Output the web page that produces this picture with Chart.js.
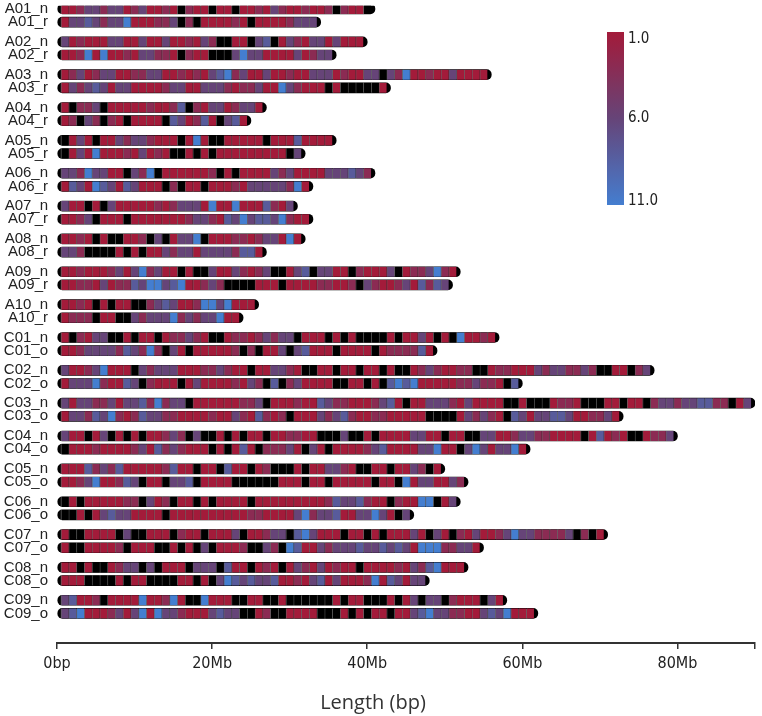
<!DOCTYPE html>
<html>
<head>
<meta charset="utf-8">
<title>Chromosome density</title>
<script src="https://cdn.jsdelivr.net/npm/chart.js@4.4.1/dist/chart.umd.min.js"></script>
<style>
  html, body { margin: 0; padding: 0; background: #fff; }
  #wrap { width: 762px; height: 716px; }
</style>
</head>
<body>
<div id="wrap"><canvas id="chart" width="762" height="716"></canvas></div>
<script>
// chromosome rows, top to bottom
var chromosomes = [
    'A01_n', 'A01_r', 'A02_n', 'A02_r', 'A03_n', 'A03_r', 'A04_n', 'A04_r',
    'A05_n', 'A05_r', 'A06_n', 'A06_r', 'A07_n', 'A07_r', 'A08_n', 'A08_r',
    'A09_n', 'A09_r', 'A10_n', 'A10_r',
    'C01_n', 'C01_o', 'C02_n', 'C02_o', 'C03_n', 'C03_o', 'C04_n', 'C04_o',
    'C05_n', 'C05_o', 'C06_n', 'C06_o', 'C07_n', 'C07_o', 'C08_n', 'C08_o',
    'C09_n', 'C09_o'
];

// one char per 1Mb bin, value in hex (1..b = 1..11), 0 = no value (black)
var bins = [
    '1136636613 6113103110 1101131631 1311303110',
    '16686366b1 1133603011 1131011113 666',
    '6131116611 6116113163 0011068016 316616111',
    '113b1b1131 6633103110 006b661111 61366',
    '1361366113 3661131316 8b36116113 1166613116 6063b11311 61111',
    '1636861661 1113661166 63133611b6 3111010000 01',
    '1033601111 1311380316 613661',
    '1306303101 1110861381 0681',
    '0161011636 6311101b10 0111110111 81111',
    '0161b11131 6131001010 1111111110 6',
    '663b661106 3b01111113 0101111636 1111666863',
    '1861b86186 1110301101 1131666663 b1',
    '6110106111 113136661b 11b1118316',
    '1136011101 1111113663 186b6886b3 11',
    '1131010011 3060166b01 113313661b 1',
    '6630000101 0116366166 663881',
    '1131113616 b361101006 1163136001 6806611031 11601336b31',
    '1133161338 6bb68b1136 3000011101 1113311306 3113618386',
    '1131010110 03686113bb 6b111',
    '1333011006 3666b36366 b11',
    '1031660010 1101336310 0133136366 0111010100 0010116101 0b1131',
    '1136666386 3b30610111 1130301160 6811101111 01333381',
    '61136b1110 6366611133 6311011663 1001101101 1010013631 1330013311 1636633630 011036',
    '1666b31186 0311101611 1131630803 6111100110 108b8b1111 133633108',
    '6166336166 83b3660111 1113360111 3118633111 3681011666 3161111001 0001331000 1101103663 668833016',
    '166386b313 8663311113 1163183130 1116368311 3311111000 0163631086 1668861133 61',
    '6110160101 0113630600 1010110113 3110006001 0111166110 1100661136 6331111018 131001336',
    '0111311113 6183631110 1018103336 1061011113 68111166b1 106b6166b1',
    '1118363811 1113811011 0811013000 1011663100 110116301',
    '1136b11386 0110668011 1100000011 1011011111 0110b16611 63',
    '0101111133 0613011010 1111011111 1111386683 110311bb016',
    '0010168661 1110111111 1111331111 6b36681166 b6106',
    '1001111060 0111031101 1160113660 8b61110110 1011161061 03161136b6 6333360301',
    '1001111301 1100101060 111300630b 8116366686 686861bbb3 3661',
    '1101001366 0601110666 0811013101 6316131101 11131638b1 11',
    '1110000101 1000011010 6b86866811 3168161113 b186166',
    '6811301111 b113b100b1 1100110010 0000010110 0010160660 3111061',
    '68b1113616 b1b6631116 8660013001 1110001010 1101168b66 3311686b111'
];

var scaleTicks = [1, 6, 11];
var colorStops = [
    [1, [163, 27, 58]],
    [6, [102, 68, 120]],
    [11, [68, 126, 208]]
];
var axisTitle = 'Length (bp)';

var tickFamily = "'DejaVu Sans Condensed', 'Liberation Sans Narrow', 'DejaVu Sans', sans-serif";

function colorFor(v) {
    if (!v) {
        return '#000';
    }
    var a = v <= colorStops[1][0] ? colorStops[0] : colorStops[1];
    var b = v <= colorStops[1][0] ? colorStops[1] : colorStops[2];
    var t = (v - a[0]) / (b[0] - a[0]);
    var c = a[1].map(function (x, i) {
        return Math.round(x + (b[1][i] - x) * t);
    });
    return 'rgb(' + c.join(',') + ')';
}

var values = bins.map(function (s) {
    return s.replace(/ /g, '').split('').map(function (ch) {
        return parseInt(ch, 16);
    });
});

// pairs sit close together, a wider gap after every second row
var labels = [];
var slotRow = [];
chromosomes.forEach(function (name, i) {
    labels.push(name);
    slotRow.push(i);
    var gap = i % 2 === 0 ? 1 : 2;
    for (var g = 0; g < gap; g++) {
        labels.push('');
        slotRow.push(-1);
    }
});
// room under the last pair, down to the axis
labels.push('', '');
slotRow.push(-1, -1);

var maxBins = Math.max.apply(null, values.map(function (v) {
    return v.length;
}));

var datasets = [];

// half a bin of offset so the cells start inside the rounded cap
datasets.push({
    data: slotRow.map(function (r) { return r < 0 ? null : 0.5; }),
    backgroundColor: 'rgba(0,0,0,0)',
    borderWidth: 0,
    stack: 'bins'
});

for (var j = 0; j < maxBins; j++) {
    datasets.push({
        data: slotRow.map(function (r) {
            return r >= 0 && j < values[r].length ? 1 : null;
        }),
        backgroundColor: slotRow.map(function (r) {
            return r >= 0 && j < values[r].length ? colorFor(values[r][j]) : 'rgba(0,0,0,0)';
        }),
        borderColor: 'rgba(255,255,255,0.4)',
        borderWidth: {left: 1, right: 0, top: 0, bottom: 0},
        borderSkipped: false,
        stack: 'bins'
    });
}

// black capsule behind each chromosome, gives the rounded black ends
datasets.push({
    data: slotRow.map(function (r) { return r < 0 ? null : values[r].length + 1; }),
    backgroundColor: '#000',
    borderWidth: 0,
    borderRadius: 5,
    borderSkipped: false,
    grouped: false,
    stack: 'outline'
});

var colorbar = {
    id: 'colorbar',
    afterDraw: function (chart) {
        var ctx = chart.ctx;
        var left = 607, top = 32, width = 17, height = 173;
        var lo = scaleTicks[0], hi = scaleTicks[scaleTicks.length - 1];
        var grad = ctx.createLinearGradient(0, top, 0, top + height);
        for (var v = lo; v <= hi; v++) {
            grad.addColorStop((v - lo) / (hi - lo), colorFor(v));
        }
        ctx.save();
        ctx.fillStyle = grad;
        ctx.fillRect(left, top, width, height);
        ctx.font = '15px ' + tickFamily;
        ctx.fillStyle = '#222';
        ctx.textAlign = 'left';
        scaleTicks.forEach(function (t, i) {
            var y = top + (t - lo) / (hi - lo) * height;
            ctx.textBaseline = i === 0 ? 'top' : (i === scaleTicks.length - 1 ? 'alphabetic' : 'middle');
            ctx.fillText(t.toFixed(1), left + width + 4, y);
        });

        // axis title sits left of the axis centre in the original
        ctx.font = "20px 'Open Sans', sans-serif";
        ctx.fillStyle = '#333';
        ctx.textAlign = 'center';
        ctx.textBaseline = 'middle';
        ctx.fillText(axisTitle, 373, 703);
        ctx.restore();
    }
};

new Chart(document.getElementById('chart').getContext('2d'), {
    type: 'bar',
    data: {
        labels: labels,
        datasets: datasets
    },
    options: {
        indexAxis: 'y',
        responsive: false,
        animation: false,
        devicePixelRatio: 1,
        events: [],
        barThickness: 10,
        layout: {
            padding: {left: 0, right: 7, top: 5.7, bottom: 37.8}
        },
        plugins: {
            legend: {display: false},
            tooltip: {enabled: false}
        },
        scales: {
            x: {
                type: 'linear',
                stacked: true,
                min: 0,
                max: 90,
                grid: {
                    drawOnChartArea: false,
                    drawTicks: true,
                    tickLength: 6,
                    color: '#333',
                    lineWidth: 1.5
                },
                border: {display: true, color: '#333', width: 2},
                ticks: {
                    stepSize: 20,
                    autoSkip: false,
                    maxRotation: 0,
                    padding: 5,
                    color: '#222',
                    font: {family: tickFamily, size: 16},
                    callback: function (value) {
                        if (value === 0) {
                            return '0bp';
                        }
                        return value % 20 === 0 ? value + 'Mb' : '';
                    }
                }
            },
            y: {
                stacked: true,
                grid: {display: false, drawTicks: false},
                border: {display: false},
                ticks: {
                    autoSkip: false,
                    padding: 9,
                    color: '#222',
                    font: {family: "'Liberation Sans', Arial, sans-serif", size: 15}
                },
                afterFit: function (scale) {
                    scale.width = 57;
                    scale.paddingTop = 0;
                    scale.paddingBottom = 0;
                }
            }
        }
    },
    plugins: [colorbar]
});
</script>
</body>
</html>
